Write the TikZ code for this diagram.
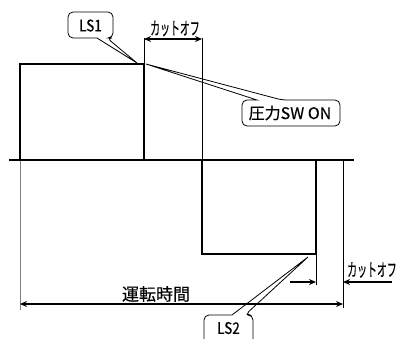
\documentclass[tikz,border=0pt]{standalone}
\usepackage{fontspec}
\newfontfamily\jp[FakeBold=0.4]{Noto Sans CJK JP}
\usetikzlibrary{arrows.meta}
\begin{document}
\begin{tikzpicture}[x=1pt,y=-1pt,
  wave/.style={line width=1.7pt, line cap=rect},
  thinline/.style={line width=0.8pt},
  dimarrow/.style={line width=1.6pt, -{Stealth[length=7pt,width=6pt]}},
  dimboth/.style={line width=1.6pt, {Stealth[length=7pt,width=6pt]}-{Stealth[length=7pt,width=6pt]}},
  callout/.style={line width=0.8pt},
  lbl/.style={inner sep=0pt, font=\jp\fontsize{16}{16}\selectfont},
  cut/.style={inner sep=0pt, font=\jp\fontsize{18}{18}\selectfont, xscale=0.55},
  big/.style={inner sep=0pt, font=\jp\fontsize{17}{17}\selectfont}]
\useasboundingbox (0,0) rectangle (397,338);
\clip (0,0) rectangle (397,338);
% coordinates
\coordinate (b0) at (10,160);
\coordinate (b1) at (353,160);
\coordinate (h0) at (20,160);
\coordinate (h1) at (20,64);
\coordinate (h2) at (144,64);
\coordinate (h3) at (144,160);
\coordinate (l0) at (202,160);
\coordinate (l1) at (202,254);
\coordinate (l2) at (316,254);
\coordinate (l3) at (316,160);
\coordinate (c1t) at (144,38);
\coordinate (c2t) at (202,38);
\coordinate (ca) at (144,39);
\coordinate (cb) at (202,39);
\coordinate (gl0) at (20,160);
\coordinate (gl1) at (20,310);
\coordinate (r0) at (343,160);
\coordinate (r1) at (343,308);
\coordinate (s1) at (316,285);
\coordinate (dA) at (20,304);
\coordinate (dB) at (343,304);
\coordinate (e0) at (290,282);
\coordinate (e1) at (316,282);
\coordinate (f0) at (392,282);
\coordinate (f1) at (343,282);
% thin extension lines
\draw[thinline] (h2) -- (c1t);
\draw[thinline] (c2t) -- (l0);
\draw[thinline, gray] (gl0) -- (gl1);
\draw[thinline] (r0) -- (r1);
\draw[thinline] (l2) -- (s1);
% waveform
\draw[wave] (b0) -- (b1);
\draw[wave] (h0) -- (h1) -- (h2) -- (h3);
\draw[wave] (l0) -- (l1) -- (l2) -- (l3);
% dimension arrows
\draw[dimboth] (ca) -- (cb);
\draw[dimboth] (dA) -- (dB);
\draw[dimarrow] (e0) -- (e1);
\draw[dimarrow] (f0) -- (f1);
% labels
\node[cut] (cut1) at (175,28.5) {カットオフ};
\node[cut] (cut2) at (372,270) {カットオフ};
\node[big] (run) at (156,294) {運転時間};
% callouts
\node[lbl, xscale=0.85] (ls1) at (90.5,25.5) {LS1};
\coordinate (t1) at (137,63);
\draw[callout] (97,38) [rounded corners=5pt] -- (68,38) -- (68,12) -- (113,12) -- (113,38) -- (107,38) [sharp corners] -- (t1) -- cycle;
\node[lbl] (psw) at (290,113) {圧力SW ON};
\coordinate (t2) at (146,64);
\draw[callout] (257,100) [rounded corners=5pt] -- (242,100) -- (242,126) -- (340,126) -- (340,100) -- (282,100) [sharp corners] -- (t2) -- cycle;
\node[lbl, xscale=0.85] (ls2) at (228.5,328) {LS2};
\coordinate (t3) at (308,257);
\draw[callout] (232,315) [rounded corners=5pt] -- (204,315) -- (204,352) -- (253,352) -- (253,315) -- (245,315) [sharp corners] -- (t3) -- cycle;
\end{tikzpicture}
\end{document}
